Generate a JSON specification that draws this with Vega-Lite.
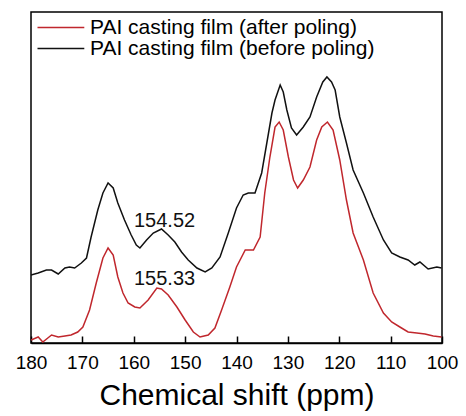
{
  "$schema": "https://vega.github.io/schema/vega-lite/v6.json",
  "autosize": "none",
  "width": 411,
  "height": 331,
  "padding": {"left": 31, "top": 12, "right": 24, "bottom": 73},
  "background": "white",
  "config": {
    "view": {"stroke": "black", "strokeWidth": 1.5},
    "font": "Liberation Sans"
  },
  "datasets": {
    "spectra": [
      {"ppm": 180, "intensity": 68, "series": "PAI casting film (before poling)"},
      {"ppm": 178.6, "intensity": 70, "series": "PAI casting film (before poling)"},
      {"ppm": 177, "intensity": 73, "series": "PAI casting film (before poling)"},
      {"ppm": 176, "intensity": 73, "series": "PAI casting film (before poling)"},
      {"ppm": 174.7, "intensity": 69, "series": "PAI casting film (before poling)"},
      {"ppm": 173.4, "intensity": 75, "series": "PAI casting film (before poling)"},
      {"ppm": 172.5, "intensity": 76, "series": "PAI casting film (before poling)"},
      {"ppm": 171.5, "intensity": 75, "series": "PAI casting film (before poling)"},
      {"ppm": 170.2, "intensity": 80, "series": "PAI casting film (before poling)"},
      {"ppm": 169.2, "intensity": 85, "series": "PAI casting film (before poling)"},
      {"ppm": 168.3, "intensity": 106, "series": "PAI casting film (before poling)"},
      {"ppm": 167, "intensity": 133, "series": "PAI casting film (before poling)"},
      {"ppm": 166, "intensity": 150, "series": "PAI casting film (before poling)"},
      {"ppm": 165, "intensity": 160, "series": "PAI casting film (before poling)"},
      {"ppm": 164, "intensity": 155, "series": "PAI casting film (before poling)"},
      {"ppm": 163.1, "intensity": 140, "series": "PAI casting film (before poling)"},
      {"ppm": 161.8, "intensity": 123, "series": "PAI casting film (before poling)"},
      {"ppm": 160.5, "intensity": 108, "series": "PAI casting film (before poling)"},
      {"ppm": 159.5, "intensity": 98, "series": "PAI casting film (before poling)"},
      {"ppm": 158.8, "intensity": 95, "series": "PAI casting film (before poling)"},
      {"ppm": 157.5, "intensity": 103, "series": "PAI casting film (before poling)"},
      {"ppm": 156.2, "intensity": 110, "series": "PAI casting film (before poling)"},
      {"ppm": 154.6, "intensity": 114, "series": "PAI casting film (before poling)"},
      {"ppm": 153.3, "intensity": 108, "series": "PAI casting film (before poling)"},
      {"ppm": 152, "intensity": 101, "series": "PAI casting film (before poling)"},
      {"ppm": 150.7, "intensity": 91, "series": "PAI casting film (before poling)"},
      {"ppm": 149.4, "intensity": 83, "series": "PAI casting film (before poling)"},
      {"ppm": 147.7, "intensity": 75, "series": "PAI casting film (before poling)"},
      {"ppm": 146.1, "intensity": 71, "series": "PAI casting film (before poling)"},
      {"ppm": 144.8, "intensity": 75, "series": "PAI casting film (before poling)"},
      {"ppm": 143.2, "intensity": 86, "series": "PAI casting film (before poling)"},
      {"ppm": 141.6, "intensity": 110, "series": "PAI casting film (before poling)"},
      {"ppm": 140, "intensity": 135, "series": "PAI casting film (before poling)"},
      {"ppm": 138.7, "intensity": 148, "series": "PAI casting film (before poling)"},
      {"ppm": 137.7, "intensity": 150, "series": "PAI casting film (before poling)"},
      {"ppm": 136.4, "intensity": 150, "series": "PAI casting film (before poling)"},
      {"ppm": 135.1, "intensity": 170, "series": "PAI casting film (before poling)"},
      {"ppm": 134.1, "intensity": 200, "series": "PAI casting film (before poling)"},
      {"ppm": 133.1, "intensity": 230, "series": "PAI casting film (before poling)"},
      {"ppm": 132.5, "intensity": 243, "series": "PAI casting film (before poling)"},
      {"ppm": 131.5, "intensity": 258, "series": "PAI casting film (before poling)"},
      {"ppm": 130.9, "intensity": 251, "series": "PAI casting film (before poling)"},
      {"ppm": 130.2, "intensity": 233, "series": "PAI casting film (before poling)"},
      {"ppm": 129.3, "intensity": 215, "series": "PAI casting film (before poling)"},
      {"ppm": 128.3, "intensity": 208, "series": "PAI casting film (before poling)"},
      {"ppm": 127, "intensity": 216, "series": "PAI casting film (before poling)"},
      {"ppm": 125.7, "intensity": 226, "series": "PAI casting film (before poling)"},
      {"ppm": 124.4, "intensity": 246, "series": "PAI casting film (before poling)"},
      {"ppm": 123.2, "intensity": 261, "series": "PAI casting film (before poling)"},
      {"ppm": 122.4, "intensity": 266, "series": "PAI casting film (before poling)"},
      {"ppm": 121.5, "intensity": 261, "series": "PAI casting film (before poling)"},
      {"ppm": 120.8, "intensity": 253, "series": "PAI casting film (before poling)"},
      {"ppm": 119.9, "intensity": 226, "series": "PAI casting film (before poling)"},
      {"ppm": 118.6, "intensity": 200, "series": "PAI casting film (before poling)"},
      {"ppm": 117.3, "intensity": 173, "series": "PAI casting film (before poling)"},
      {"ppm": 115.3, "intensity": 150, "series": "PAI casting film (before poling)"},
      {"ppm": 113.4, "intensity": 126, "series": "PAI casting film (before poling)"},
      {"ppm": 111.4, "intensity": 103, "series": "PAI casting film (before poling)"},
      {"ppm": 109.8, "intensity": 90, "series": "PAI casting film (before poling)"},
      {"ppm": 108.2, "intensity": 86, "series": "PAI casting film (before poling)"},
      {"ppm": 106.6, "intensity": 83, "series": "PAI casting film (before poling)"},
      {"ppm": 105.3, "intensity": 78, "series": "PAI casting film (before poling)"},
      {"ppm": 104.3, "intensity": 81, "series": "PAI casting film (before poling)"},
      {"ppm": 102.7, "intensity": 74, "series": "PAI casting film (before poling)"},
      {"ppm": 101, "intensity": 76, "series": "PAI casting film (before poling)"},
      {"ppm": 100.1, "intensity": 75, "series": "PAI casting film (before poling)"},
      {"ppm": 180, "intensity": 3, "series": "PAI casting film (after poling)"},
      {"ppm": 178.6, "intensity": 6, "series": "PAI casting film (after poling)"},
      {"ppm": 177.7, "intensity": 1, "series": "PAI casting film (after poling)"},
      {"ppm": 176, "intensity": 8, "series": "PAI casting film (after poling)"},
      {"ppm": 174.7, "intensity": 6, "series": "PAI casting film (after poling)"},
      {"ppm": 173.4, "intensity": 7, "series": "PAI casting film (after poling)"},
      {"ppm": 172.2, "intensity": 8, "series": "PAI casting film (after poling)"},
      {"ppm": 170.9, "intensity": 11, "series": "PAI casting film (after poling)"},
      {"ppm": 169.9, "intensity": 16, "series": "PAI casting film (after poling)"},
      {"ppm": 168.6, "intensity": 33, "series": "PAI casting film (after poling)"},
      {"ppm": 167.3, "intensity": 60, "series": "PAI casting film (after poling)"},
      {"ppm": 166, "intensity": 85, "series": "PAI casting film (after poling)"},
      {"ppm": 165, "intensity": 95, "series": "PAI casting film (after poling)"},
      {"ppm": 164, "intensity": 88, "series": "PAI casting film (after poling)"},
      {"ppm": 163.1, "intensity": 66, "series": "PAI casting film (after poling)"},
      {"ppm": 162.1, "intensity": 50, "series": "PAI casting film (after poling)"},
      {"ppm": 161.1, "intensity": 40, "series": "PAI casting film (after poling)"},
      {"ppm": 159.8, "intensity": 36, "series": "PAI casting film (after poling)"},
      {"ppm": 158.8, "intensity": 35, "series": "PAI casting film (after poling)"},
      {"ppm": 157.2, "intensity": 43, "series": "PAI casting film (after poling)"},
      {"ppm": 155.5, "intensity": 55, "series": "PAI casting film (after poling)"},
      {"ppm": 154.6, "intensity": 54, "series": "PAI casting film (after poling)"},
      {"ppm": 153.3, "intensity": 48, "series": "PAI casting film (after poling)"},
      {"ppm": 151.6, "intensity": 36, "series": "PAI casting film (after poling)"},
      {"ppm": 150, "intensity": 23, "series": "PAI casting film (after poling)"},
      {"ppm": 148.4, "intensity": 11, "series": "PAI casting film (after poling)"},
      {"ppm": 147.1, "intensity": 6, "series": "PAI casting film (after poling)"},
      {"ppm": 145.5, "intensity": 8, "series": "PAI casting film (after poling)"},
      {"ppm": 144.2, "intensity": 15, "series": "PAI casting film (after poling)"},
      {"ppm": 142.9, "intensity": 33, "series": "PAI casting film (after poling)"},
      {"ppm": 141.3, "intensity": 56, "series": "PAI casting film (after poling)"},
      {"ppm": 140, "intensity": 76, "series": "PAI casting film (after poling)"},
      {"ppm": 138.3, "intensity": 93, "series": "PAI casting film (after poling)"},
      {"ppm": 136.7, "intensity": 93, "series": "PAI casting film (after poling)"},
      {"ppm": 135.4, "intensity": 106, "series": "PAI casting film (after poling)"},
      {"ppm": 134.5, "intensity": 150, "series": "PAI casting film (after poling)"},
      {"ppm": 133.5, "intensity": 186, "series": "PAI casting film (after poling)"},
      {"ppm": 132.5, "intensity": 216, "series": "PAI casting film (after poling)"},
      {"ppm": 131.7, "intensity": 221, "series": "PAI casting film (after poling)"},
      {"ppm": 130.9, "intensity": 213, "series": "PAI casting film (after poling)"},
      {"ppm": 129.9, "intensity": 186, "series": "PAI casting film (after poling)"},
      {"ppm": 128.9, "intensity": 163, "series": "PAI casting film (after poling)"},
      {"ppm": 128.1, "intensity": 155, "series": "PAI casting film (after poling)"},
      {"ppm": 127, "intensity": 163, "series": "PAI casting film (after poling)"},
      {"ppm": 125.7, "intensity": 176, "series": "PAI casting film (after poling)"},
      {"ppm": 124.4, "intensity": 203, "series": "PAI casting film (after poling)"},
      {"ppm": 123.4, "intensity": 216, "series": "PAI casting film (after poling)"},
      {"ppm": 122.3, "intensity": 221, "series": "PAI casting film (after poling)"},
      {"ppm": 121.2, "intensity": 213, "series": "PAI casting film (after poling)"},
      {"ppm": 120.2, "intensity": 190, "series": "PAI casting film (after poling)"},
      {"ppm": 119.9, "intensity": 183, "series": "PAI casting film (after poling)"},
      {"ppm": 118.6, "intensity": 143, "series": "PAI casting film (after poling)"},
      {"ppm": 117.3, "intensity": 110, "series": "PAI casting film (after poling)"},
      {"ppm": 115.3, "intensity": 83, "series": "PAI casting film (after poling)"},
      {"ppm": 113.4, "intensity": 50, "series": "PAI casting film (after poling)"},
      {"ppm": 111.4, "intensity": 30, "series": "PAI casting film (after poling)"},
      {"ppm": 109.8, "intensity": 21, "series": "PAI casting film (after poling)"},
      {"ppm": 108.2, "intensity": 16, "series": "PAI casting film (after poling)"},
      {"ppm": 106.6, "intensity": 11, "series": "PAI casting film (after poling)"},
      {"ppm": 104.9, "intensity": 10, "series": "PAI casting film (after poling)"},
      {"ppm": 103.3, "intensity": 9, "series": "PAI casting film (after poling)"},
      {"ppm": 101.7, "intensity": 7, "series": "PAI casting film (after poling)"},
      {"ppm": 100.1, "intensity": 6, "series": "PAI casting film (after poling)"}
    ],
    "labels": [
      {"ppm": 154.0, "intensity": 116, "label": "154.52"},
      {"ppm": 154.0, "intensity": 58, "label": "155.33"}
    ]
  },
  "layer": [
    {
      "data": {"name": "spectra"},
      "mark": {"type": "line", "strokeWidth": 1.5, "clip": true},
      "encoding": {
        "x": {
          "field": "ppm",
          "type": "quantitative",
          "scale": {"domain": [100, 180], "reverse": true, "nice": false, "zero": false},
          "axis": {
            "title": "Chemical shift (ppm)",
            "titleFontSize": 30,
            "titleFontWeight": "normal",
            "titleFont": "Liberation Sans",
            "titleColor": "black",
            "titlePadding": 8,
            "values": [180, 175, 170, 165, 160, 155, 150, 145, 140, 135, 130, 125, 120, 115, 110, 105, 100],
            "labelExpr": "datum.value % 10 === 0 ? datum.label : ''",
            "labelFontSize": 19,
            "labelFont": "Liberation Sans",
            "labelColor": "black",
            "labelPadding": 17,
            "labelFlush": false,
            "labelOverlap": false,
            "grid": false,
            "domainColor": "black",
            "domainWidth": 1.5,
            "tickColor": "black",
            "tickWidth": 1.5,
            "tickSize": {"condition": {"test": "datum.value % 10 === 0", "value": -7}, "value": -4}
          }
        },
        "y": {
          "field": "intensity",
          "type": "quantitative",
          "scale": {"domain": [0, 331], "nice": false, "zero": false},
          "axis": null
        },
        "color": {
          "field": "series",
          "type": "nominal",
          "scale": {
            "domain": ["PAI casting film (after poling)", "PAI casting film (before poling)"],
            "range": ["#c0272d", "#111111"]
          },
          "legend": {
            "orient": "none",
            "legendX": 5,
            "legendY": 5,
            "title": null,
            "symbolType": "M-1,0H4.2",
            "symbolSize": 324,
            "symbolStrokeWidth": 1.5,
            "labelFontSize": 21,
            "labelFont": "Liberation Sans",
            "labelColor": "black",
            "labelOffset": 33,
            "rowPadding": -4,
            "padding": 0,
            "labelLimit": 400
          }
        }
      }
    },
    {
      "data": {"name": "labels"},
      "mark": {"type": "text", "font": "Liberation Sans", "fontSize": 20, "align": "center", "baseline": "alphabetic", "color": "#111111"},
      "encoding": {
        "x": {"field": "ppm", "type": "quantitative"},
        "y": {"field": "intensity", "type": "quantitative"},
        "text": {"field": "label"}
      }
    }
  ]
}
